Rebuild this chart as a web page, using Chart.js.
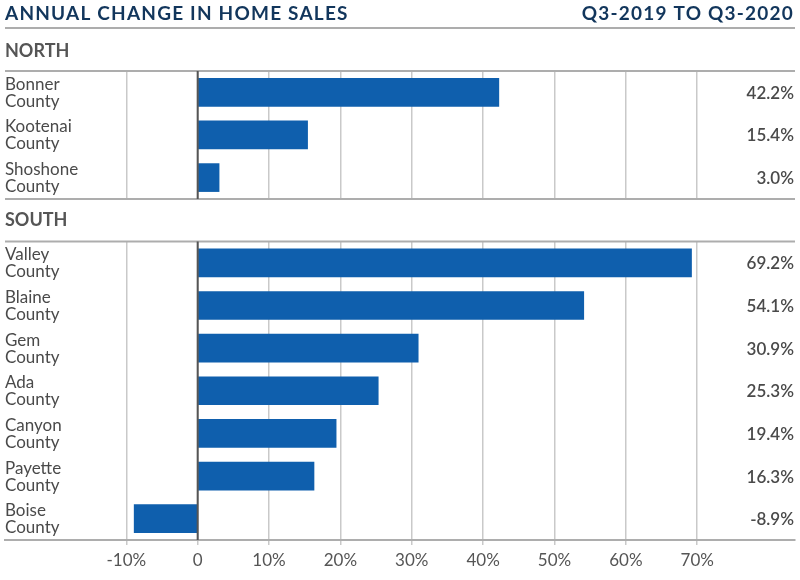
<!DOCTYPE html>
<html>
<head>
<meta charset="utf-8">
<script src="https://cdn.jsdelivr.net/npm/chart.js@4/dist/chart.umd.min.js"></script>
<style>
    html, body { margin: 0; padding: 0; background: #fff; }
    #wrap { width: 800px; height: 580px; position: relative; }
</style>
</head>
<body>
<div id="wrap"><canvas id="salesChart" width="800" height="580"></canvas></div>
<script>
// Data
const titleText = 'ANNUAL CHANGE IN HOME SALES';
const periodText = 'Q3-2019 TO Q3-2020';
const northCounties = ['Bonner', 'Kootenai', 'Shoshone'];
const northValues = [42.2, 15.4, 3.0];
const southCounties = ['Valley', 'Blaine', 'Gem', 'Ada', 'Canyon', 'Payette', 'Boise'];
const southValues = [69.2, 54.1, 30.9, 25.3, 19.4, 16.3, -8.9];
const xTicks = [-10, 0, 10, 20, 30, 40, 50, 60, 70];

// one category row is left empty for the SOUTH header
const labels = northCounties.concat(['SOUTH'], southCounties);
const values = northValues.concat([null], southValues);
const southRow = northCounties.length;

const FONT = 'Lato, "Open Sans", sans-serif';
const BAR_COLOR = '#0f5fad';
const LINE_GRAY = '#adadad';
const TEXT_GRAY = '#4a4a4a';

// Titles, section headers, row labels and value labels
const decorPlugin = {
    id: 'decor',
    beforeDatasetsDraw(chart) {
        const ctx = chart.ctx;
        const area = chart.chartArea;
        const y = chart.scales.y;
        const half = (y.getPixelForValue(1) - y.getPixelForValue(0)) / 2;
        const sTop = y.getPixelForValue(southRow) - half;
        const sBottom = y.getPixelForValue(southRow) + half;

        // clear grid in the header row
        ctx.save();
        ctx.fillStyle = '#fff';
        ctx.fillRect(0, sTop, chart.width, sBottom - sTop);

        ctx.strokeStyle = LINE_GRAY;
        ctx.lineWidth = 2;
        [area.top, sTop, sBottom].forEach(py => {
            ctx.beginPath();
            ctx.moveTo(area.left, py);
            ctx.lineTo(area.right, py);
            ctx.stroke();
        });
        ctx.restore();
    },
    afterDatasetsDraw(chart) {
        const ctx = chart.ctx;
        const area = chart.chartArea;
        const x = chart.scales.x;
        const y = chart.scales.y;
        const half = (y.getPixelForValue(1) - y.getPixelForValue(0)) / 2;
        const sTop = y.getPixelForValue(southRow) - half;
        const sBottom = y.getPixelForValue(southRow) + half;
        const x0 = x.getPixelForValue(0);

        ctx.save();
        // zero line
        ctx.strokeStyle = '#555';
        ctx.lineWidth = 2;
        ctx.beginPath();
        ctx.moveTo(x0, area.top);
        ctx.lineTo(x0, sTop);
        ctx.moveTo(x0, sBottom);
        ctx.lineTo(x0, area.bottom);
        ctx.stroke();

        // title and line under it
        ctx.fillStyle = '#12365c';
        ctx.font = 'bold 19px ' + FONT;
        ctx.letterSpacing = '1.2px';
        ctx.textBaseline = 'middle';
        ctx.textAlign = 'left';
        ctx.fillText(titleText, 5, 14);
        ctx.textAlign = 'right';
        ctx.fillText(periodText, 794, 14);
        ctx.letterSpacing = '0px';
        ctx.strokeStyle = LINE_GRAY;
        ctx.lineWidth = 2;
        ctx.beginPath();
        ctx.moveTo(5, 28);
        ctx.lineTo(795, 28);
        ctx.stroke();

        // section headers
        ctx.fillStyle = '#555';
        ctx.font = 'bold 18px ' + FONT;
        ctx.textAlign = 'left';
        ctx.fillText('NORTH', 5, 51);
        ctx.fillText('SOUTH', 5, (sTop + sBottom) / 2);

        // row labels and values
        labels.forEach((name, i) => {
            if (i === southRow) return;
            const py = y.getPixelForValue(i);
            ctx.fillStyle = TEXT_GRAY;
            ctx.font = '17px ' + FONT;
            ctx.textAlign = 'left';
            ctx.fillText(name, 5, py - 8);
            ctx.fillText('County', 5, py + 9);
            ctx.font = '600 17px ' + FONT;
            ctx.textAlign = 'right';
            ctx.fillText(values[i].toFixed(1) + '%', 794, py + 1);
        });
        ctx.restore();
    }
};

const ctx = document.getElementById('salesChart').getContext('2d');
const salesChart = new Chart(ctx, {
    type: 'bar',
    data: {
        labels: labels,
        datasets: [{
            data: values,
            backgroundColor: BAR_COLOR,
            borderWidth: 0,
            barThickness: 28
        }]
    },
    options: {
        indexAxis: 'y',
        responsive: false,
        animation: false,
        layout: {
            padding: { top: 71, left: 5, right: 5, bottom: 0 }
        },
        plugins: {
            legend: { display: false },
            tooltip: { enabled: false }
        },
        scales: {
            x: {
                min: -27,
                max: 83.7,
                afterBuildTicks(scale) {
                    scale.ticks = xTicks.map(v => ({ value: v }));
                },
                afterFit(scale) {
                    scale.height = 40;
                },
                ticks: {
                    autoSkip: false,
                    maxRotation: 0,
                    padding: 5,
                    color: '#555',
                    font: { family: FONT, size: 17 },
                    callback: v => v === 0 ? '0' : v + '%'
                },
                grid: {
                    color: '#c9c9c9',
                    lineWidth: 1.5,
                    tickLength: 5
                },
                border: {
                    display: true,
                    color: LINE_GRAY,
                    width: 2
                }
            },
            y: {
                display: false,
                offset: true
            }
        }
    },
    plugins: [decorPlugin]
});
</script>
</body>
</html>
